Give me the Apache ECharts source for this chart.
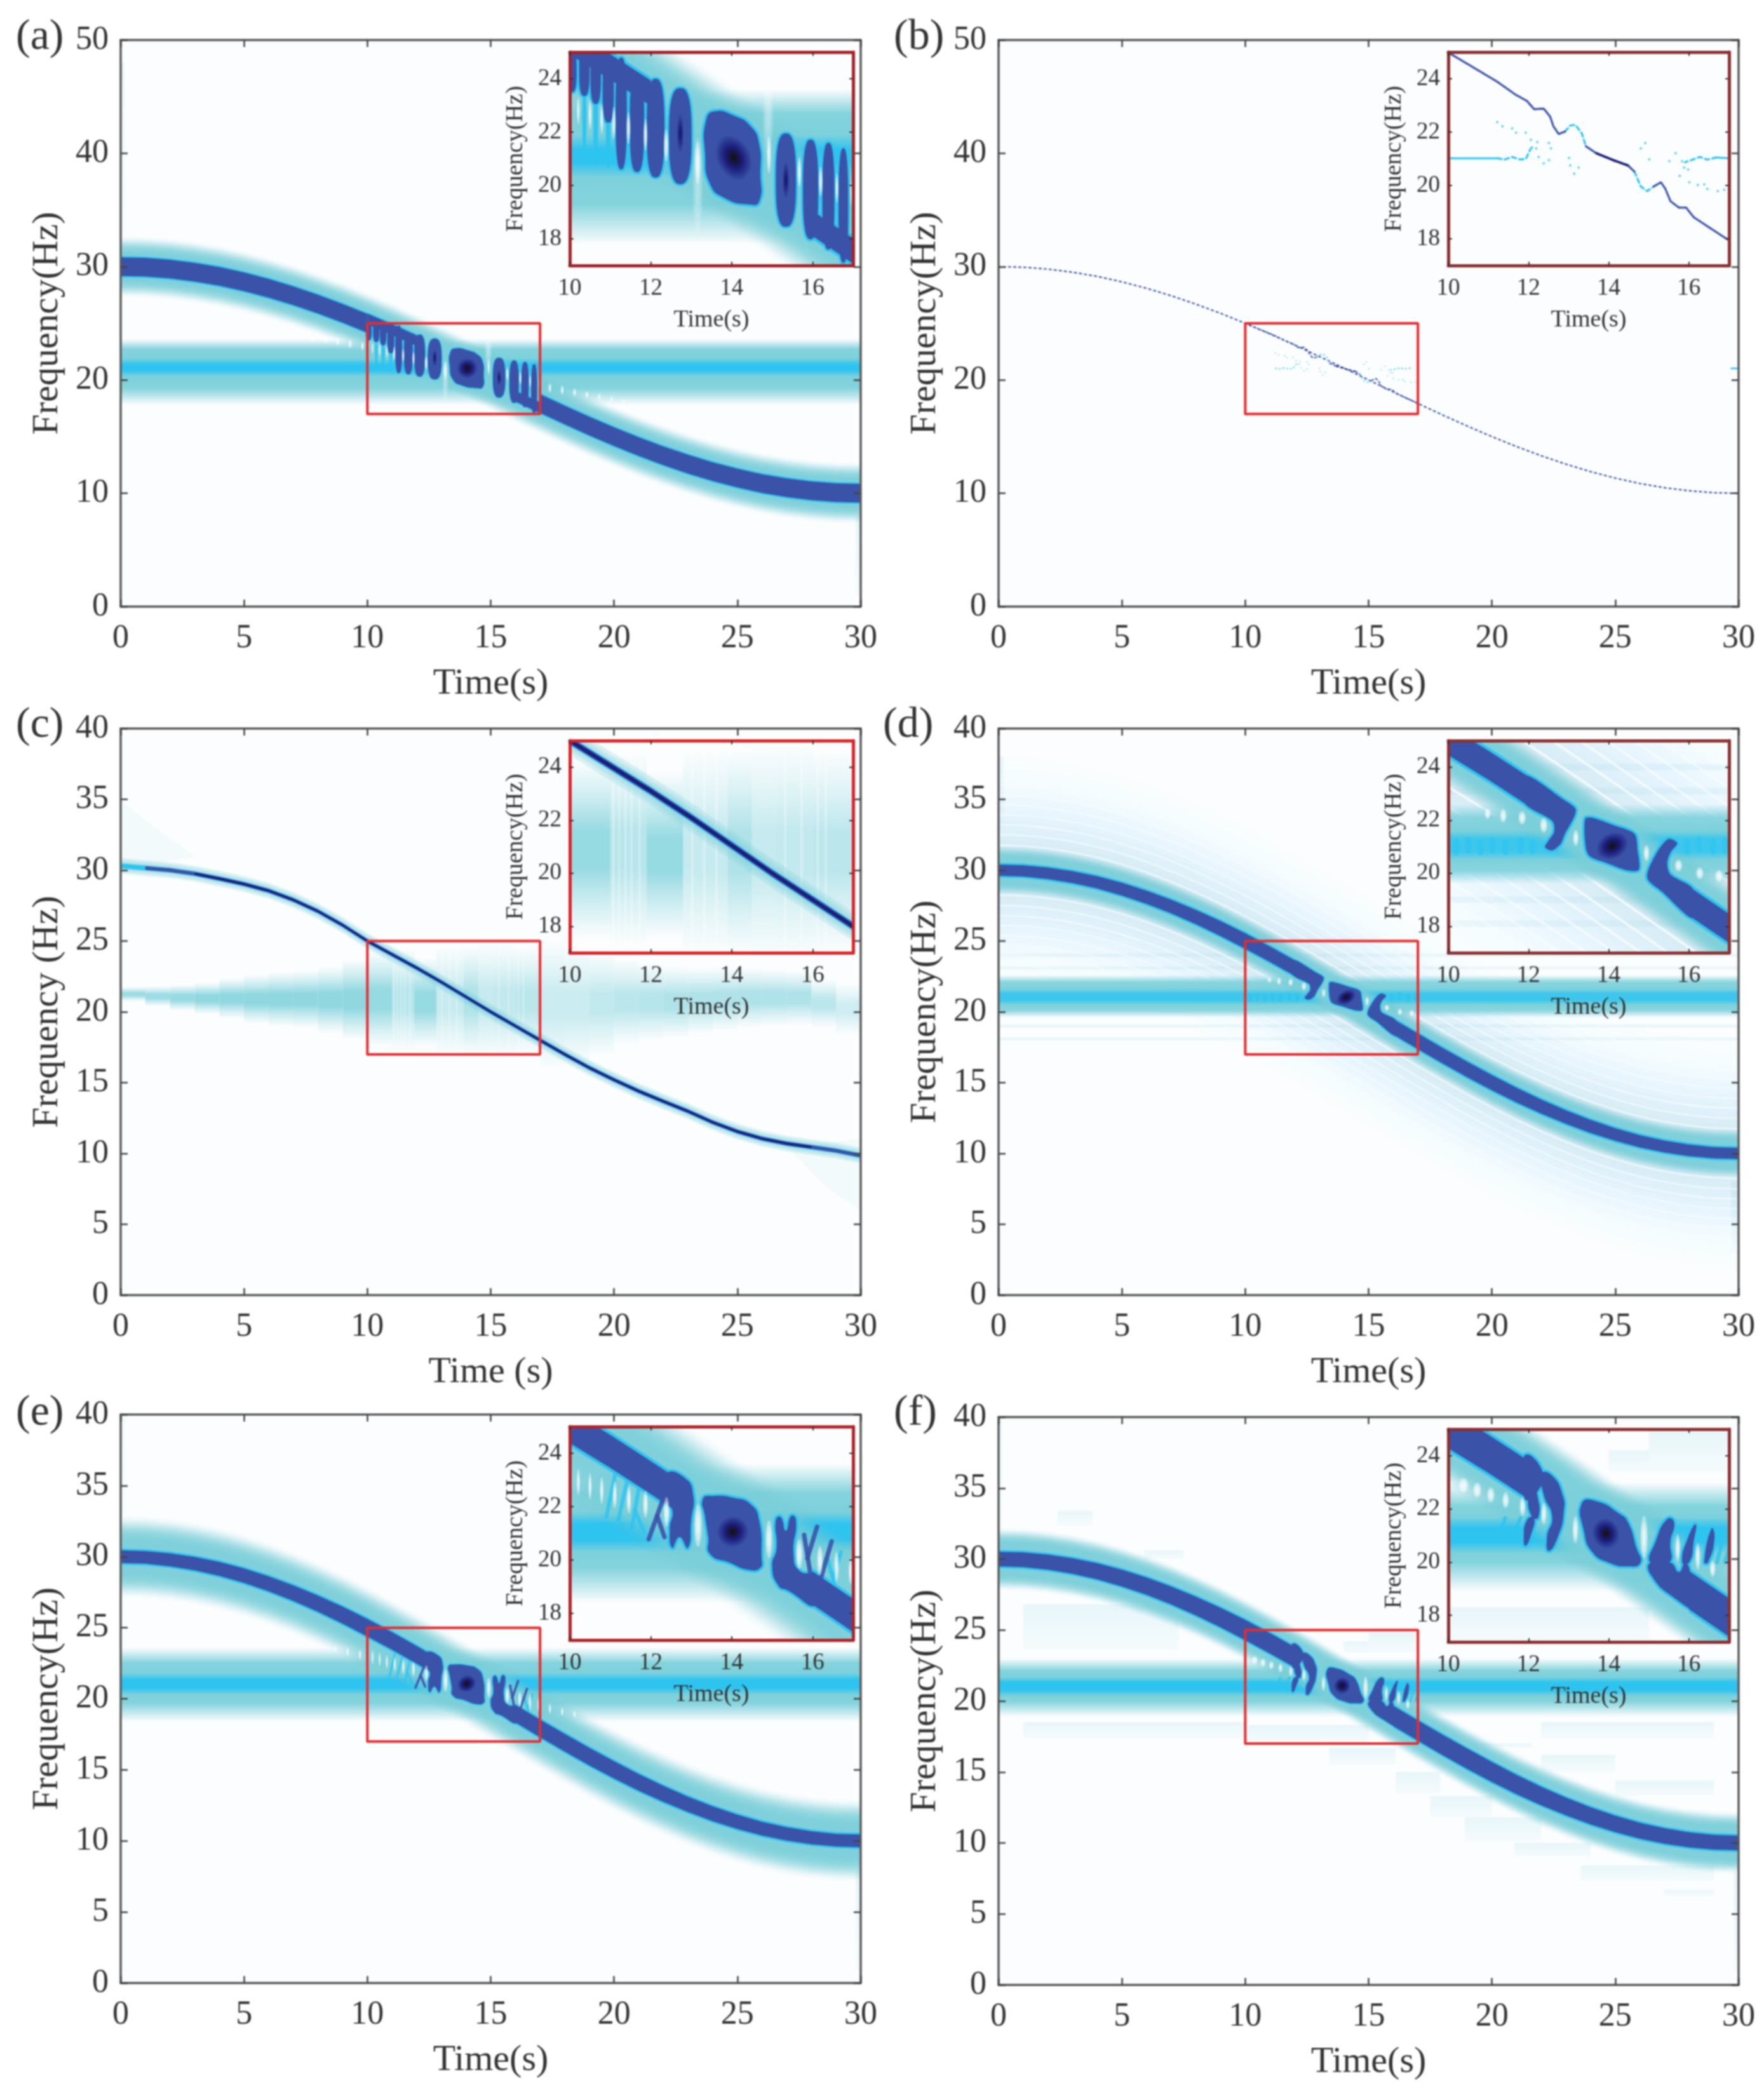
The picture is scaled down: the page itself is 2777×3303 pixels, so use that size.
<!DOCTYPE html>
<html><head><meta charset="utf-8">
<style>html,body{margin:0;padding:0;background:#fff}#c{width:2777px;height:3303px}#c canvas{filter:blur(1.1px)}</style>
<script src="https://cdn.jsdelivr.net/npm/echarts@6/dist/echarts.min.js"></script></head>
<body><div id="c"></div>
<script>
// ---------- values ----------
const ridgeTime=[0,1,2,3,4,5,6,7,8,9,10,11,12,13,14,15,16,17,18,19,20,21,22,23,24,25,26,27,28,29,30];
const ridgeFreq=[30,29.95,29.78,29.51,29.14,28.66,28.09,27.43,26.69,25.88,25,24.07,23.09,22.08,21.05,20,18.95,17.92,16.91,15.93,15,14.12,13.31,12.57,11.91,11.34,10.86,10.49,10.22,10.05,10];
const ridgeSpread=[.72,.72,.74,.76,.79,.82,.85,.88,.92,.96,1,1,1,1,1,1,1,1,1,1,.98,.95,.91,.87,.84,.81,.78,.76,.74,.72,.72];
const ridgeFreqC=[30.3,30.15,30,29.75,29.4,29.02,28.55,27.9,27.1,26.12,25,24.05,23.1,22.1,21.05,20,19,18,17,16.05,15.2,14.4,13.68,12.98,12.2,11.55,11.05,10.7,10.45,10.2,9.85];
const mainTimeTicks=[0,5,10,15,20,25,30];
const freqTicks50=[0,10,20,30,40,50];
const freqTicks40=[0,5,10,15,20,25,30,35,40];
const insetTimeTicks=[10,12,14,16];
const insetFreqTicks=[18,20,22,24];
const zoomBox=[[10,17],[17,17],[17,25],[10,25],[10,17]];

// horizontal component: frequency stops and amplitude at each stop
const bandFreqA=[23.6,22.7,21.9,21.35,20.85,20.3,19.3,17.8], bandAmpA=[0,.95,1,1.5,1.5,1,.95,0];
const bandFreqD=[22.6,22.1,21.6,21.3,20.8,20.5,20.1,19.6], bandAmpD=[0,.9,1,1.4,1.4,1,.9,0];
const bandFreqE=[23.6,22.5,21.8,21.35,20.75,20.3,19.7,18.4], bandAmpE=[0,.95,1,1.5,1.5,1,.95,0];
const bandFreqF=[23,22.1,21.7,21.3,20.75,20.35,20,18.9], bandAmpF=[0,.95,1,1.5,1.5,1,.95,0];

// ridge core stretches: t0,t1,above,below (Hz)
const coreA=[[0,10,.82,.82],[10,12,.85,.1],[16,17,.1,.85],[17,30,.82,.82]];
const coreD=[[0,12,.55,.55],[16,30,.55,.55]];
const coreE=[[0,13,.62,.62],[16,30,.62,.62]];
const coreF=[[0,12,.72,.72],[16,30,.72,.72]];

// lobes: t,f,half-t,half-f,tilt
const lobesA=[[10.06,24.3,.11,.8,0],[10.36,24.3,.13,.95,0],[10.64,24.1,.13,1.05,0],[10.95,23.6,.14,1.25,0],[11.27,22.7,.14,2.1,0],[11.66,22.35,.18,1.85,0],[12.12,22.15,.22,1.85,0],[12.73,21.85,.28,1.8,0],[15.34,20.2,.25,1.75,0],[15.95,19.85,.19,1.87,0],[16.39,19.6,.15,2,0],[16.76,19.25,.12,2.15,0]];
const tailsA=[[10.36,22.6,.05,1.6,0],[10.64,22.4,.06,1.7,0],[10.95,22,.06,1.4,0]];
const beadsD=[[10.2,21,.08,.32,0],[10.5,21.05,.08,.32,0],[10.8,20.98,.08,.32,0],[11.1,21.05,.08,.32,0],[11.42,20.98,.08,.32,0],[11.8,21.05,.08,.32,0],[12.1,21,.08,.3,0],[15.95,21,.08,.32,0],[16.25,21.1,.08,.32,0],[16.6,21,.08,.32,0],[16.9,21.05,.08,.32,0]];
// closed outlines of interference patches
const patchesA=[[[13.37,22.46],[13.58,22.78],[14.05,22.62],[14.47,22.22],[14.68,21.55],[14.71,20.44],[14.68,19.4],[14.42,19.29],[13.84,19.52],[13.47,20.04],[13.34,21.23]]];
const patchesD=[
 [[11.9,23.7],[12.9,22.75],[13.17,22.44],[13.14,22.13],[12.91,21.49],[12.8,21.1],[12.59,20.86],[12.41,20.98],[12.51,21.25],[12.64,21.57],[12.59,21.97],[11.9,22.65]],
 [[13.41,22.05],[13.59,22.09],[14.12,21.81],[14.64,21.49],[14.72,20.86],[14.75,20.14],[14.48,20.1],[13.96,20.38],[13.54,20.62],[13.43,20.94]],
 [[15.17,20.7],[15.48,21.29],[15.71,21.13],[15.54,20.78],[15.46,20.38],[15.54,19.95],[16.1,19.4],[16.1,18.3],[15.33,19.3],[14.96,19.83]]];
const patchesE=[
 [[12.37,23.24],[12.84,23.08],[13.05,22.44],[13,21.49],[12.92,20.46],[12.71,20.86],[12.53,20.46],[12.47,21.17],[12.53,21.89],[12.29,22.44]],
 [[13.29,22.29],[13.53,22.4],[14.05,22.33],[14.47,22.09],[14.68,21.49],[14.74,20.06],[14.71,19.71],[14.42,19.63],[13.95,19.9],[13.47,20.22],[13.42,20.86],[13.34,21.65]],
 [[15.09,21.49],[15.21,21.61],[15.34,21.1],[15.47,21.65],[15.59,21.49],[15.53,20.22],[15.68,19.59],[16.1,19.4],[16.1,18.3],[15.37,18.87],[15.16,19.03],[15,19.75],[15.11,20.46]]];
const patchesF=[
 [[11.9,24],[12.35,23.4],[12.2,22.6],[11.9,22.4]],
 [[12.04,23.41],[12.22,22.53],[12.25,21.7],[12.09,21.7],[11.98,22.53]],
 [[12.33,23.33],[12.59,23.25],[12.85,22.53],[12.88,21.89],[12.75,21.02],[12.51,20.42],[12.46,20.94],[12.59,21.7],[12.38,22.53]],
 [[11.93,20.62],[11.88,20.86],[11.96,21.58],[12.14,21.66],[12.06,21.02]],
 [[13.33,22.21],[13.69,22.29],[14.27,21.82],[14.48,21.5],[14.69,20.54],[14.79,19.98],[14.48,19.84],[14.01,19.98],[13.59,20.38],[13.38,21.18]],
 [[15.46,21.62],[15.63,21.5],[15.54,20.78],[15.51,19.98],[15.04,19.98],[15.17,20.78]],
 [[15.04,19.98],[15.54,19.98],[15.75,19.63],[15.91,19.98],[16.06,19.42],[16.17,18.3],[15.64,18.65],[15.06,19.5]],
 [[15.83,20],[15.98,20.94],[16.17,21.42],[16.12,20.78],[16.01,20]],
 [[16.38,20],[16.56,21.26],[16.64,20.94],[16.48,20]]];
// thin crossing strokes
const strokesE=[[[11.95,20.78],[12.34,22.44]],[[12.16,21.65],[12.34,20.86]],[[15.79,20.94],[15.95,19.43]],[[16.11,21.25],[15.87,20.06]],[[16.47,20.7],[16.21,19.35]]];
const strokesCyanE=[[[11.2,21.5],[11.45,23.2]],[[10.9,21.6],[11.15,23.4]],[[11.53,21.17],[11.74,22.99]],[[11.6,21.9],[11.85,21]],[[16.37,20.06],[16.53,19.11]],[[16.7,20.3],[16.5,19.3]]];
const strokesCyanF=[[[11.2,20.8],[11.42,21.66]],[[11.6,20.9],[11.8,21.66]],[[16.9,20],[17,20.5]],[[16.7,20],[16.9,21.2]]];
// dark centres: t,f,half-t,half-f,tilt,depth
const coresA=[[12.73,21.95,.09,.8,0,.7],[14.05,21.04,.45,.95,25,1],[15.34,20.2,.09,.75,0,.7]];
const coresD=[[14.09,21.03,.45,.52,28,1]];
const coresE=[[14.03,21.06,.42,.62,28,1]];
const coresF=[[13.93,21.08,.36,.62,18,1]];
// pale interference slits: t,f,half-t,half-f
const slitsA=[[10.21,22.8,.035,.5],[10.5,22.65,.04,.55],[10.79,22.5,.04,.55],[11.09,22.35,.045,.6],[11.45,22.15,.05,.6],[11.87,21.9,.05,.6],[12.38,21.5,.06,.6],[13.16,20.85,.07,.8],[14.92,21.15,.05,.7],[15.67,20.5,.05,.55],[16.2,20.15,.05,.55],[16.6,19.9,.04,.55],[16.97,19.7,.04,.5],
 [9.8,23,.06,.4],[9.3,23.2,.06,.4],[8.8,23.4,.06,.35],[8.3,23.55,.06,.3],[7.8,23.7,.05,.3],[7.3,23.85,.05,.25],[6.8,24,.05,.2],
 [17.4,19.3,.06,.4],[17.9,19.1,.06,.4],[18.4,18.9,.06,.35],[18.9,18.7,.06,.3],[19.4,18.5,.05,.3],[19.9,18.3,.05,.25],[20.4,18.1,.05,.2]];
const veilsA=[[13.16,20,.12,1.8],[14.9,22.6,.13,1.5]];
const slitsD=[[12.38,21.81,.09,.28],[11.84,22.09,.09,.25],[11.37,22.17,.08,.25],[10.98,22.25,.07,.2],[13.18,21.33,.07,.3],[14.94,20.76,.07,.3],[15.74,20.29,.09,.22],[16.27,20,.09,.22],[16.75,19.9,.09,.22]];
const slitsE=[[10.21,22.92,.04,.5],[10.5,22.76,.04,.5],[10.79,22.6,.045,.5],[11.11,22.44,.05,.5],[11.46,22.25,.055,.5],[11.87,22.09,.06,.5],[12.39,21.81,.07,.55],[13.17,21.29,.09,.8],[14.92,20.78,.08,.7],[15.67,20.22,.08,.55],[16.18,19.98,.07,.55],[16.59,19.75,.06,.55],[16.94,19.59,.05,.5],
 [9.7,23.1,.05,.35],[9.2,23.3,.05,.3],[8.7,23.5,.05,.25],[17.4,19.3,.05,.35],[17.9,19.1,.05,.3],[18.4,18.9,.05,.25]];
const slitsF=[[13.17,21.22,.07,.5],[12.38,21.82,.07,.4],[11.85,22.09,.07,.35],[11.43,22.33,.08,.3],[11.06,22.53,.09,.28],[10.72,22.71,.1,.28],[10.38,22.89,.12,.28],[14.88,20.94,.09,.8],[15.72,20.54,.06,.5],[16.22,20.22,.06,.5],[16.59,19.75,.07,.3]];
// faint rectangular blocks: t0,t1,f0,f1
const blocksF=[[15,17,23.4,24.9],[14,15,23.4,24.2],[10,15,17,18.3],[1,10,17.4,18.5],[22,29,17.4,18.5],[2.4,3.8,32.4,33.4],[5.9,7.5,30,30.6],[1,7.3,23.6,26.8],[13.4,16.1,15.5,16.7],[19.3,21.6,16.7,17],[22,25,15,16.2],[16.1,17.9,13.5,15],[25,29,13.3,14.4],[17.5,20,11.8,13.3],[18.9,22,10.1,11.8],[20.9,24,9,10],[23.6,29,7.3,8.4],[27,29,6.3,6.7],[0,.15,32,46],[29.8,30,1,8]];
const blocksA=[[0,.15,33,48],[29.8,30,1,8]];
const blocksD=[[0,.2,33,38],[29.7,30,3,8]];
// faint ripples in (d): distance from the ridge and frequency of the horizontal ones
const rippleOffsetsD=[1.75,2.5,3.2,3.9,4.6,5.3,6,6.7,7.4];
const bandRipplesD=[18.1,19,23.1,24];
// (c): band columns t0,t1,centre,half-width,strength
const columnsC=[[0,1,21.25,.5,.75],[1,2,21.1,.7,.75],[2,3,21,.9,.8],[3,4,20.95,1.1,.85],[4,5,20.95,1.4,.85],[5,6,20.9,1.7,.85],[6,7,20.9,1.9,.85],[7,8,20.9,2,.85],[8,9,20.85,2.3,.85],[9,10,20.85,2.8,.85],[10,11,20.9,3.3,.8],[11,11.9,20.9,3.6,.55],[11.9,12.8,20.7,3.1,.8],[12.8,13.9,20.8,3.8,.42],[13.9,14.5,20.8,3.8,.6],[14.5,15.1,20.8,4,.42],[15.1,16,20.8,4,.45],[16,17,20.8,3.8,.5],[17,18,20.5,4.5,.38],[18,19,20.5,4.2,.38],[19,20,20.6,3.6,.45],[20,21,20.7,3,.5],[21,22,20.7,2.7,.55],[22,23,20.7,2.5,.6],[23,24,20.8,2.3,.6],[24,25,20.9,2.2,.6],[25,26,21,2.1,.6],[26,27,21,2,.6],[27,28,21,1.9,.6],[28,29,20.6,1.7,.5],[29,30,20.2,1.8,.35]];
const stripesC=[[11.05,11.1],[11.2,11.24],[11.35,11.4],[11.5,11.55],[11.7,11.75],[13,13.05],[13.3,13.35],[13.6,13.65],[15.3,15.35],[15.7,15.75],[16.1,16.15],[16.3,16.35]];
const flaresC=[[[0,30],[0,35],[1,33.5],[3,31]],[[30,11],[30,6],[28.7,7.5],[27,10.5]]];
// (b): reassigned ridge pieces and scattered cyan dots
const pathBlueB=[[[10,24.98],[10.43,24.6],[11.22,23.89],[11.67,23.41],[11.96,23.17],[12.14,22.86],[12.38,22.88],[12.54,22.58],[12.62,22.22],[12.75,21.93],[12.91,22.02]],[[13.43,21.47],[13.69,21.21]],[[14.48,20.75],[14.64,20.52]],[[15.12,19.96],[15.3,20.12],[15.41,19.88],[15.54,19.41],[15.75,19.17],[15.93,19.17],[16.12,18.81],[16.48,18.45],[16.96,17.98]]];
const pathNavyB=[[13.69,21.21],[14.11,20.95],[14.48,20.75]];
const pathCyanB=[[[12.91,22.02],[13.04,22.25],[13.17,22.27],[13.33,21.95],[13.43,21.47]],[[14.64,20.52],[14.72,20.24],[14.8,19.96],[14.96,19.79],[15.12,19.96]],[[11.22,21.02],[11.4,20.97],[11.59,21.07],[11.77,20.98],[11.93,20.99],[12.06,21.39]],[[16.69,21.05],[16.45,20.97],[16.27,21.07],[16.06,20.95],[15.9,20.87]]];
const pathCyanFlatB=[[[10,21.02],[11.22,21.02]],[[17,21.02],[16.69,21.05]]];
const endMarkB=[[29.7,21.02],[30,21.02]];
const dotsB=[[11.22,22.38],[11.35,22.22],[11.59,22.14],[11.69,21.98],[11.93,21.98],[12.06,21.71],[12.09,21.43],[12.19,21.39],[12.22,21.63],[12.51,21.59],[12.56,21.39],[12.25,21.07],[12.38,20.83],[12.51,20.95],[13.01,21.03],[13.04,20.75],[13.14,20.44],[13.25,20.67],[14.91,21.59],[14.8,21.39],[15.01,20.98],[15.51,20.91],[15.67,21.21],[15.83,20.91],[15.88,20.67],[15.98,20.6],[15.77,20.36],[16.01,20.12],[16.22,20.02],[16.38,20.04],[16.46,19.87],[16.72,19.79],[16.88,19.84]];

// ---------- styling ----------
const FONT='"Liberation Serif"', TXT='#333';
const BG='#fbfdfe';
const TEAL=[125,209,219], CYAN=[46,196,240], BLUE=[58,83,168], NAVY=[27,29,122], BLACK=[21,18,26];
const rgba=(c,a)=>`rgba(${c[0]},${c[1]},${c[2]},${a})`;
const mix=(a,b,k)=>[0,1,2].map(i=>Math.round(a[i]+(b[i]-a[i])*k));
const ampColor=a=>a<=1?rgba(TEAL,a):rgba(mix(TEAL,CYAN,Math.min(1,(a-1)/.5)),1);
const ridgePts=(F,t0,t1,up,dn,pad,spread)=>{const T=ridgeTime.map((t,i)=>[t,F[i],spread?ridgeSpread[i]:1]).filter(p=>p[0]>=t0&&p[0]<=t1);
  return T.map(p=>[p[0],p[1]+up*p[2]+pad]).concat(T.slice().reverse().map(p=>[p[0],p[1]-dn*p[2]-pad]));};
const rect=(t0,t1,f0,f1,fill)=>({k:'rect',t0,t1,f0,f1,fill});

function bandGradient(freq,amp){const hi=freq[0],lo=freq[freq.length-1];
  return rect(0,30,lo,hi,new echarts.graphic.LinearGradient(0,0,0,1,freq.map((f,i)=>({offset:(hi-f)/(hi-lo),color:ampColor(amp[i])}))));}
function halo(out,inn,n,col,a0,a1,spread){const r=[];for(let i=0;i<n;i++){const q=i/(n-1),w=out+(inn-out)*q;
  r.push({k:'poly',pts:ridgePts(ridgeFreq,0,30,w,w,0,spread),fill:rgba(col,(a0+(a1-a0)*q).toFixed(3))});}return r;}
const blockFill=()=>new echarts.graphic.LinearGradient(0,0,0,1,[{offset:0,color:'rgba(185,230,241,.3)'},{offset:1,color:'rgba(185,230,241,.08)'}]);

function spawn(s){
  let it=[];
  (s.blocks||[]).forEach(b=>it.push(rect(b[0],b[1],b[2],b[3],blockFill())));
  if(s.wide){it.push(...halo(s.wide,1.5,24,[196,233,242],.012,.055,false));}
  (s.bandRipples||[]).forEach(f=>it.push({k:'line',pts:[[0,f],[30,f]],color:'rgba(150,215,230,.14)',lw:10}));
  (s.ripples||[]).forEach((o,i)=>{const al=(.8-.06*i).toFixed(2);
    [1,-1].forEach(sg=>it.push({k:'line',pts:ridgeTime.map((t,j)=>[t,ridgeFreq[j]+sg*o]),color:`rgba(255,255,255,${al})`,lw:3.5}));});
  if(s.band) it.push(bandGradient(s.band[0],s.band[1]));
  if(s.halo) it.push(...halo(s.halo[0],s.halo[1],24,TEAL,.012,.25,false));
  const S=!!s.spread, sm=s.smooth||.55;
  // cyan rims first, dark fills after, so no rim shows inside a dark area
  (s.core||[]).forEach(c=>it.push({k:'poly',pts:ridgePts(ridgeFreq,c[0],c[1],c[2],c[3],.12,S),fill:rgba(CYAN,1)}));
  (s.tails||[]).forEach(e=>it.push({k:'ell',e,fill:rgba(CYAN,1)}));
  (s.beads||[]).forEach(e=>it.push({k:'ell',e,fill:rgba(CYAN,.8)}));
  (s.lobes||[]).forEach(e=>it.push({k:'sup',e,fill:rgba(CYAN,1),stroke:rgba(CYAN,1),sw:6}));
  (s.patches||[]).forEach(p=>it.push({k:'poly',pts:p,smooth:sm,fill:rgba(CYAN,1),stroke:rgba(CYAN,1),sw:7}));
  (s.strokesCyan||[]).forEach(p=>it.push({k:'line',pts:p,color:rgba(CYAN,.85),lw:6}));
  (s.core||[]).forEach(c=>it.push({k:'poly',pts:ridgePts(ridgeFreq,c[0],c[1],c[2],c[3],0,S),fill:rgba(BLUE,1)}));
  (s.lobes||[]).forEach(e=>it.push({k:'sup',e,fill:rgba(BLUE,1)}));
  (s.patches||[]).forEach(p=>it.push({k:'poly',pts:p,smooth:sm,fill:rgba(BLUE,1)}));
  (s.strokes||[]).forEach(p=>it.push({k:'line',pts:p,color:rgba(BLUE,.9),lw:7}));
  (s.veils||[]).forEach(e=>{[1,.7,.4].forEach(q=>it.push({k:'ell',e:[e[0],e[1],e[2]*q,e[3]*q,0],fill:'rgba(255,255,255,.16)'}));});
  (s.slits||[]).forEach(e=>{[1,.72,.42].forEach(q=>it.push({k:'ell',e:[e[0],e[1],e[2]*q,e[3]*q,0],fill:'rgba(255,255,255,.42)'}));});
  (s.cores||[]).forEach(c=>{for(let i=0;i<9;i++){const q=1-i/9,d=i/8*c[5];
    const col=d<.55?mix(BLUE,NAVY,d/.55):mix(NAVY,BLACK,(d-.55)/.45);
    it.push({k:'ell',e:[c[0],c[1],c[2]*q,c[3]*q,c[4]],fill:rgba(col,1)});}});
  return it;
}
function render(items){return function(params,api){
  const it=items[params.dataIndex], sz=api.size([1,1]), sc=sz[1]/42;
  if(it.k==='rect'){const a=api.coord([it.t0,it.f1]),b=api.coord([it.t1,it.f0]);
    return {type:'rect',shape:{x:a[0],y:a[1],width:b[0]-a[0],height:b[1]-a[1]},style:{fill:it.fill}};}
  if(it.k==='poly'){return {type:'polygon',shape:{points:it.pts.map(p=>api.coord(p)),smooth:it.smooth||0},
    style:{fill:it.fill,stroke:it.stroke||null,lineWidth:(it.sw||0)*sc,lineJoin:'round'}};}
  if(it.k==='line'){return {type:'polyline',shape:{points:it.pts.map(p=>api.coord(p)),smooth:.4},
    style:{fill:null,stroke:it.color,lineWidth:Math.max(1,it.lw*sc),lineCap:'round',lineJoin:'round'}};}
  const e=it.e,c=api.coord([e[0],e[1]]),rx=e[2]*sz[0],ry=e[3]*sz[1];
  if(it.k==='sup'){ // rounded-box lobe outline
    const pts=[];for(let i=0;i<48;i++){const a=i/48*2*Math.PI,cs=Math.cos(a),sn=Math.sin(a),n=2/2.7;
      pts.push([c[0]+rx*Math.sign(cs)*Math.pow(Math.abs(cs),n),c[1]+ry*Math.sign(sn)*Math.pow(Math.abs(sn),n)]);}
    return {type:'polygon',shape:{points:pts},style:{fill:it.fill,stroke:it.stroke||null,lineWidth:(it.sw||0)*sc,lineJoin:'round'}};
  }
  return {type:'ellipse',x:c[0],y:c[1],rotation:(e[4]||0)*Math.PI/180,shape:{cx:0,cy:0,rx,ry},
    style:{fill:it.fill,stroke:it.stroke||null,lineWidth:(it.sw||0)*sc}};
};}

// ---------- panels ----------
const panels=[
 {label:'(a)',lx:25,ly:67,box:[190,63,1355,955],ins:[897,82,1343,418],yMax:50,yt:freqTicks50,xn:'Time(s)',yn:'Frequency(Hz)',
  spec:{blocks:blocksA,band:[bandFreqA,bandAmpA],halo:[2.7,1.2],core:coreA,tails:tailsA,lobes:lobesA,patches:patchesA,veils:veilsA,slits:slitsA,cores:coresA},frame:'#a52226'},
 {label:'(b)',lx:1407,ly:67,box:[1572,63,2737,955],ins:[2280,82,2722,418],yMax:50,yt:freqTicks50,xn:'Time(s)',yn:'Frequency(Hz)',spec:{},b:true,frame:'#8c2f2f'},
 {label:'(c)',lx:25,ly:1150,box:[190,1147,1355,2039],ins:[897,1166,1343,1500],yMax:40,yt:freqTicks40,xn:'Time (s)',yn:'Frequency (Hz)',spec:{},c:true,frame:'#d92226'},
 {label:'(d)',lx:1390,ly:1150,box:[1572,1147,2737,2039],ins:[2280,1166,2722,1500],yMax:40,yt:freqTicks40,xn:'Time(s)',yn:'Frequency(Hz)',
  spec:{blocks:blocksD,wide:8,ripples:rippleOffsetsD,bandRipples:bandRipplesD,band:[bandFreqD,bandAmpD],halo:[1.75,.9],core:coreD,beads:beadsD,patches:patchesD,slits:slitsD,cores:coresD,spread:true,smooth:.3},frame:'#8c2f2f'},
 {label:'(e)',lx:25,ly:2233,box:[190,2227,1355,3122],ins:[897,2246,1343,2582],yMax:40,yt:freqTicks40,xn:'Time(s)',yn:'Frequency(Hz)',
  spec:{blocks:blocksA,band:[bandFreqE,bandAmpE],halo:[2.9,1.2],core:coreE,patches:patchesE,strokes:strokesE,strokesCyan:strokesCyanE,slits:slitsE,cores:coresE,spread:true},frame:'#b02226'},
 {label:'(f)',lx:1407,ly:2233,box:[1572,2231,2737,3125],ins:[2280,2250,2722,2585],yMax:40,yt:freqTicks40,xn:'Time(s)',yn:'Frequency(Hz)',
  spec:{blocks:blocksF,band:[bandFreqF,bandAmpF],halo:[2.2,1.15],core:coreF,patches:patchesF,strokesCyan:strokesCyanF,slits:slitsF,cores:coresF,spread:true},frame:'#8c2f2f'}
];
function specC(){ // column band + thin ridge
  const it=[];
  columnsC.forEach(c=>it.push(rect(c[0],c[1],c[2]-c[3],c[2]+c[3],new echarts.graphic.LinearGradient(0,0,0,1,[
    {offset:0,color:rgba(TEAL,0)},{offset:.2,color:rgba(TEAL,(c[4]*.45).toFixed(3))},{offset:.4,color:rgba(TEAL,c[4])},{offset:.6,color:rgba(TEAL,c[4])},{offset:.8,color:rgba(TEAL,(c[4]*.45).toFixed(3))},{offset:1,color:rgba(TEAL,0)}]))));
  stripesC.forEach(s=>it.push(rect(s[0],s[1],17,25,'rgba(255,255,255,.35)')));
  flaresC.forEach(p=>it.push({k:'poly',pts:p,fill:rgba(TEAL,.07)}));
  [.55,.4,.28].forEach(w=>it.push({k:'poly',pts:ridgePts(ridgeFreqC,0,30,w,w,0,false),fill:rgba(TEAL,.25)}));
  it.push({k:'poly',pts:ridgePts(ridgeFreqC,0,30,.17,.17,0,false),fill:rgba(CYAN,1)});
  it.push({k:'poly',pts:ridgePts(ridgeFreqC,1,30,.13,.13,0,false),fill:rgba(BLUE,1)});
  it.push({k:'poly',pts:ridgePts(ridgeFreqC,3,28,.08,.08,0,false),fill:rgba(NAVY,1)});
  return it;
}

const grid=[],xAxis=[],yAxis=[],series=[],graphic=[];
function addGrid(box,o){
  const g=grid.length;
  grid.push({left:box[0],top:box[1],width:box[2]-box[0],height:box[3]-box[1],show:!o.inset,backgroundColor:BG,borderWidth:0});
  const line={show:true,onZero:false,lineStyle:{color:o.axisColor,width:o.lw}};
  const tick={show:true,inside:true,length:o.tl,lineStyle:{color:o.tickColor,width:o.tw}};
  const lab=(m)=>({show:true,margin:m,fontFamily:FONT,fontSize:o.fs,color:TXT});
  const nm=(gap)=>({nameLocation:'middle',nameGap:gap,nameTextStyle:{fontFamily:FONT,fontSize:o.nfs,color:TXT}});
  xAxis.push({gridIndex:g,type:'value',position:'bottom',min:o.x0,max:o.x1,z:o.z,splitLine:{show:false},axisLine:line,name:o.xn,...nm(o.xg),
    axisTick:{...tick,customValues:o.xt},axisLabel:{...lab(o.xm),customValues:o.xt}});
  xAxis.push({gridIndex:g,type:'value',position:'top',min:o.x0,max:o.x1,z:o.z,splitLine:{show:false},axisLine:line,
    axisTick:{...tick,customValues:o.xt},axisLabel:{show:false}});
  yAxis.push({gridIndex:g,type:'value',position:'left',min:o.y0,max:o.y1,z:o.z,splitLine:{show:false},axisLine:line,name:o.yn,...nm(o.yg),
    axisTick:{...tick,customValues:o.yt},axisLabel:{...lab(o.ym),customValues:o.yt}});
  yAxis.push({gridIndex:g,type:'value',position:'right',min:o.y0,max:o.y1,z:o.z,splitLine:{show:false},axisLine:line,
    axisTick:{...tick,customValues:o.yt},axisLabel:{show:false}});
  return {xAxisIndex:2*g,yAxisIndex:2*g};
}
function customSeries(ax,items,z){
  series.push({type:'custom',...ax,z,clip:true,silent:true,animation:false,coordinateSystem:'cartesian2d',
    data:items.map(it=>{const p=it.pts?it.pts[0]:it.e?it.e.slice(0,2):[it.t0,it.f0];return [p[0],p[1]];}),
    renderItem:render(items)});
}
function lineSeries(ax,data,color,width,z,dash){
  series.push({type:'line',...ax,z,data,showSymbol:false,silent:true,animation:false,clip:true,
    lineStyle:{color,width,type:dash||'solid',cap:'round'}});
}
function panelB(ax,z,inset){
  const C='rgb(46,196,240)',B='rgb(58,83,168)';
  if(!inset){
    lineSeries(ax,ridgeTime.map((t,i)=>[t,ridgeFreq[i]]),B,2.2,z,[3,5]);
    lineSeries(ax,endMarkB,C,2.5,z);
  } else {
    pathCyanFlatB.forEach(p=>lineSeries(ax,p,C,3,z));
  }
  pathCyanB.forEach(p=>lineSeries(ax,p,C,inset?3.2:1.4,z,inset?[7,5]:[2,4]));
  pathBlueB.forEach(p=>lineSeries(ax,p,B,inset?3.2:2,z,inset?[8,2]:[3,4]));
  lineSeries(ax,pathNavyB,'rgb(27,29,122)',inset?3.8:2,z,inset?[10,2]:[3,4]);
  series.push({type:'scatter',...ax,z,data:dotsB,symbolSize:inset?3.8:1.8,silent:true,animation:false,itemStyle:{color:C}});
}
panels.forEach(P=>{
  const ax=addGrid(P.box,{axisColor:'#5a5a5a',tickColor:'#444',lw:3.5,tw:2.5,tl:11,fs:52,nfs:58,xm:24,ym:19,xg:93,yg:86,x0:0,x1:30,y0:0,y1:P.yMax,xt:mainTimeTicks,yt:P.yt,xn:P.xn,yn:P.yn,z:3});
  if(P.b){ panelB(ax,2,false);} 
  else customSeries(ax,P.c?specC():spawn(P.spec),2);
  lineSeries(ax,zoomBox,'#e52c30',4,3);
  series[series.length-1].clip=false;
  const ai=addGrid(P.ins,{inset:true,axisColor:P.frame,tickColor:'#333',lw:5,tw:2,tl:6,fs:37,nfs:38,xm:18,ym:13,xg:67,yg:66,x0:10,x1:17,y0:17,y1:25,xt:insetTimeTicks,yt:insetFreqTicks,xn:'Time(s)',yn:'Frequency(Hz)',z:6});
  const bg=rect(10,17,17,25,BG);
  if(P.b){ customSeries(ai,[bg],5); panelB(ai,5,true);} 
  else customSeries(ai,[bg,...(P.c?specC():spawn(P.spec))],5);
  graphic.push({type:'text',left:P.lx,top:P.ly-42,z:10,style:{text:P.label,font:`68px ${FONT}`,fill:'#333'}});
});

const chart=echarts.init(document.getElementById('c'),null,{renderer:'canvas',width:2777,height:3303,devicePixelRatio:1});
chart.setOption({animation:false,backgroundColor:'#fff',grid,xAxis,yAxis,series,graphic});
</script></body></html>
